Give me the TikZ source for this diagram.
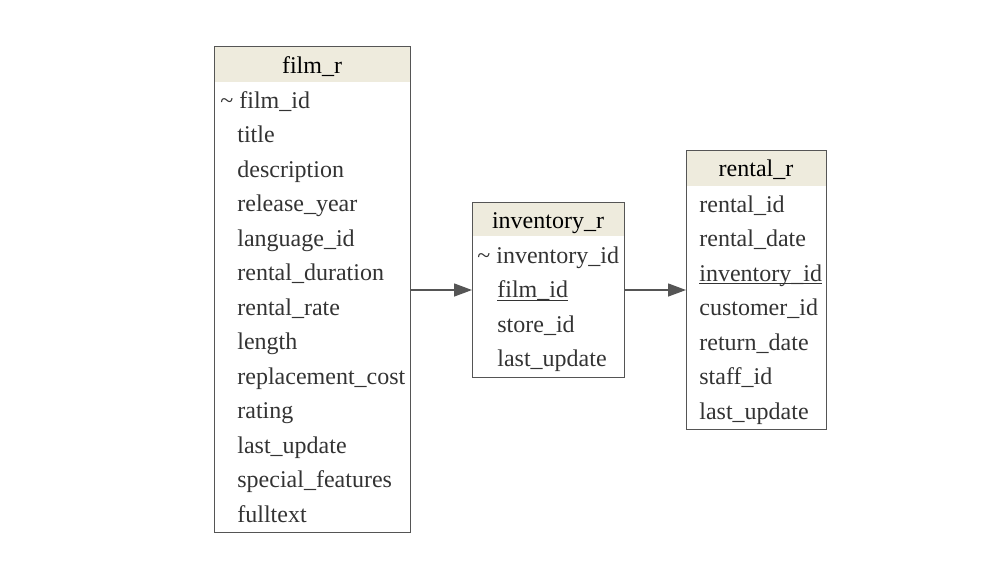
\documentclass[tikz,border=0pt]{standalone}
\usepackage{fontspec}
\setmainfont{Liberation Serif}
\usetikzlibrary{positioning,arrows.meta}
\definecolor{hdrfill}{HTML}{EEEBDD}
\definecolor{edgegray}{HTML}{555555}
\definecolor{txtgray}{HTML}{333333}
% underline close to the baseline, as the key columns have it
\newcommand\ulfk[1]{\setbox0\hbox{#1}\rlap{\rule[-1.6pt]{\wd0}{0.5pt}}\box0}

\begin{document}
\begin{tikzpicture}[x=0.5pt,y=-0.5pt,
      tbl/.style   = {draw=edgegray, line width=0.7pt, inner sep=0pt, anchor=north west},
      hdr/.style   = {fill=hdrfill, inner sep=0pt, anchor=north west},
      ttl/.style   = {font=\fontsize{12}{14}\selectfont, text=black, anchor=base, inner sep=0pt},
      field/.style = {font=\fontsize{12}{14}\selectfont, text=txtgray, anchor=base west, inner sep=0pt},
      fk/.style    = {draw=edgegray, line width=0.7pt, -{Triangle[length=9pt,width=6.5pt]}}
]
   \useasboundingbox (0,0) rectangle (1000,580);

   % film_r
   \node[hdr, minimum width=98pt, minimum height=18pt] (filmhdr) at (214,46) {};
   \node[tbl, minimum width=98pt, minimum height=243pt] (film) at (214,46) {};
   \node[ttl] (filmt) at (312,73) {film\_r};
   \node[field] (film1) at (220,108) {\textasciitilde\ film\_id};
   \foreach \f [count=\i from 2] in {title, description, release\_year, language\_id,
         rental\_duration, rental\_rate, length, replacement\_cost, rating,
         last\_update, special\_features, fulltext}
      \node[field] (film\i) at (237,{108+34.5*(\i-1)}) {\f};

   % inventory_r
   \node[hdr, minimum width=76pt, minimum height=17pt] (invhdr) at (472,202) {};
   \node[tbl, minimum width=76pt, minimum height=87.5pt] (inv) at (472,202) {};
   \node[ttl] (invt) at (548,228) {inventory\_r};
   \node[field] (inv1) at (477,263) {\textasciitilde\ inventory\_id};
   \node[field] (inv2) at (497,297.5) {\ulfk{film\_id}};
   \node[field] (inv3) at (497,332) {store\_id};
   \node[field] (inv4) at (497,366.5) {last\_update};

   % rental_r
   \node[hdr, minimum width=70pt, minimum height=18pt] (rentalhdr) at (686,150) {};
   \node[tbl, minimum width=70pt, minimum height=139.5pt] (rental) at (686,150) {};
   \node[ttl] (rentalt) at (756,176) {rental\_r};
   \foreach \f [count=\i] in {rental\_id, rental\_date, \ulfk{inventory\_id},
         customer\_id, return\_date, staff\_id, last\_update}
      \node[field] (rental\i) at (699,{212+34.5*(\i-1)}) {\f};

   % foreign keys
   \coordinate (fkrow) at (548,290);
   \draw[fk] (film.east |- fkrow) -- (inv.west |- fkrow);
   \draw[fk] (inv.east |- fkrow) -- (rental.west |- fkrow);
\end{tikzpicture}
\end{document}
